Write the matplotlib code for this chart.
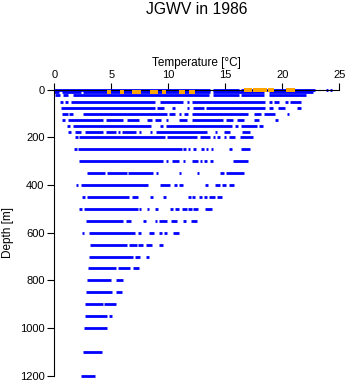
import numpy as np
import matplotlib
matplotlib.use("Agg")
import matplotlib.pyplot as plt

plt.rcParams['font.family'] = ['Liberation Sans', 'DejaVu Sans']

# depth levels [m] and temperature ranges [degC] seen at each level
depths = [0, 10, 20, 50, 75, 100, 125, 150, 175, 200, 250, 300, 350, 400, 450,
          500, 550, 600, 650, 700, 750, 800, 850, 900, 950, 1000, 1100, 1200]
temp_ranges = [
    [(0.0, 13.7), (13.9, 16.2), (16.4, 22.9), (23.8, 24.0), (24.2, 24.4)],
    [(0.0, 0.4), (0.7, 2.3), (2.5, 13.7), (13.9, 18.4), (18.8, 22.7)],
    [(0.1, 0.5), (0.8, 1.2), (1.6, 13.6), (13.9, 16.2), (16.4, 18.4), (18.8, 22.1)],
    [(0.5, 0.74), (0.93, 1.17), (1.47, 8.8), (9.27, 11.3), (11.6, 11.8), (12.1, 18.5),
     (18.8, 19.07), (19.3, 19.7), (20.2, 20.5), (20.7, 21.6)],
    [(0.6, 8.8), (9.0, 9.6), (10.3, 10.6), (11.6, 11.8), (12.2, 13.1), (13.3, 18.5),
     (18.8, 19.2), (19.6, 20.2), (21.3, 21.6)],
    [(0.65, 1.17), (1.3, 1.6), (2.5, 9.9), (10.1, 10.6), (10.9, 11.1), (11.4, 11.75),
     (12.05, 17.0), (17.5, 18.1), (18.4, 19.4), (20.4, 20.6)],
    [(0.7, 0.94), (1.17, 4.3), (4.5, 6.05), (6.4, 7.46), (8.1, 8.6), (8.83, 9.4),
     (9.8, 10.0), (10.96, 11.6), (12.05, 14.8), (15.1, 15.7), (16.0, 16.6),
     (17.5, 18.0), (19.4, 19.6)],
    [(1.1, 1.4), (1.6, 8.5), (9.27, 9.5), (9.8, 15.6), (15.85, 16.1), (16.4, 17.8),
     (18.0, 18.3)],
    [(1.17, 1.44), (1.8, 2.34), (2.7, 4.25), (4.5, 5.4), (5.6, 5.8), (5.9, 7.2),
     (7.4, 7.6), (8.4, 8.6), (8.9, 13.4), (14.1, 14.3), (14.9, 15.4), (16.5, 17.2)],
    [(1.8, 2.05), (2.2, 9.7), (9.86, 12.5), (12.8, 13.65), (13.9, 14.1), (14.25, 14.5),
     (14.9, 15.1), (15.3, 15.85), (16.3, 17.45)],
    [(1.73, 1.96), (2.1, 11.2), (11.3, 11.55), (11.7, 11.9), (12.2, 12.4), (12.9, 13.1),
     (13.3, 13.5), (13.75, 13.95), (15.3, 15.6), (16.4, 17.2)],
    [(2.17, 9.56), (9.77, 10.0), (10.35, 10.96), (11.26, 11.46), (12.05, 12.6),
     (12.8, 13.0), (13.1, 13.4), (13.65, 13.95), (15.65, 17.0)],
    [(2.84, 4.45), (4.65, 6.35), (6.5, 8.7), (8.9, 9.1), (10.9, 11.1), (12.5, 12.7),
     (14.5, 14.9), (15.1, 16.6)],
    [(1.9, 2.1), (2.3, 8.2), (9.3, 10.15), (10.5, 10.8), (10.96, 11.26), (13.2, 13.5),
     (14.1, 14.5), (14.7, 15.1), (15.35, 15.8)],
    [(2.46, 2.7), (2.9, 6.55), (6.8, 7.3), (8.4, 8.7), (9.5, 9.8), (11.7, 12.0),
     (12.1, 12.35), (12.7, 13.0), (13.15, 13.4), (13.6, 14.1), (14.25, 14.7)],
    [(2.17, 2.4), (2.6, 7.37), (7.46, 7.6), (8.1, 8.33), (8.83, 9.1), (10.15, 10.4),
     (10.6, 10.9), (11.2, 11.6), (11.75, 12.05), (12.2, 12.6), (13.2, 13.8)],
    [(2.78, 6.0), (6.3, 6.7), (7.75, 8.04), (8.83, 9.04), (9.2, 9.86), (10.24, 10.8),
     (11.26, 11.55), (12.0, 12.5)],
    [(2.46, 2.63), (3.07, 7.08), (7.37, 7.58), (8.33, 8.75), (9.2, 9.42), (9.65, 9.86),
     (10.44, 10.96)],
    [(3.13, 6.4), (6.58, 7.28), (7.37, 7.8), (8.04, 8.54), (9.2, 9.5)],
    [(3.07, 6.93), (7.08, 7.5), (8.04, 8.33)],
    [(2.98, 5.4), (5.56, 6.64), (6.93, 7.43)],
    [(2.84, 4.95), (5.39, 6.0)],
    [(2.78, 5.03), (5.39, 5.9)],
    [(2.7, 4.3), (4.4, 5.39)],
    [(2.7, 4.65), (4.82, 5.03)],
    [(2.6, 4.6)],
    [(2.5, 4.15)],
    [(2.34, 3.57)],
]

# flagged values (orange)
flag_temps = [4.8, 5.9, 7.0, 7.2, 7.4, 8.6, 8.95, 9.6, 11.1, 11.3, 12.0, 12.2,
              16.8, 17.0, 17.2, 17.6, 17.9, 18.2, 18.5, 18.9, 19.1, 20.5, 20.7, 20.9]
flag_depths = [10] * 12 + [2] * 12

fig = plt.figure(figsize=(3.48, 3.84), dpi=100)
ax = fig.add_axes([0.156, 0.022, 0.819, 0.744])

for d, ranges in zip(depths, temp_ranges):
    t0 = [r[0] for r in ranges]
    t1 = [r[1] for r in ranges]
    ax.hlines([d] * len(ranges), t0, t1, colors='#0000ff', linewidth=2.0,
              capstyle='butt', clip_on=False)

ax.scatter(flag_temps, flag_depths, s=5, marker='s', color='orange',
           linewidths=0, clip_on=False, zorder=3)

ax.set_xlim(0, 25)
ax.set_ylim(1200, 0)
ax.xaxis.tick_top()
ax.xaxis.set_label_position('top')
ax.set_xticks([0, 5, 10, 15, 20, 25])
ax.set_yticks([0, 200, 400, 600, 800, 1000, 1200])
for s in ['right', 'bottom']:
    ax.spines[s].set_visible(False)
for s in ['top', 'left']:
    ax.spines[s].set_linewidth(0.8)
ax.tick_params(axis='both', direction='out', length=5, width=0.8,
               labelsize=8, pad=2)
ax.set_xlabel('Temperature [°C]', fontsize=8.5, labelpad=3)
ax.set_ylabel('Depth [m]', fontsize=8.5, labelpad=4)
fig.suptitle('JGWV in 1986', fontsize=11.3, x=0.565, y=0.995)

fig.savefig('out.png', dpi=100)
